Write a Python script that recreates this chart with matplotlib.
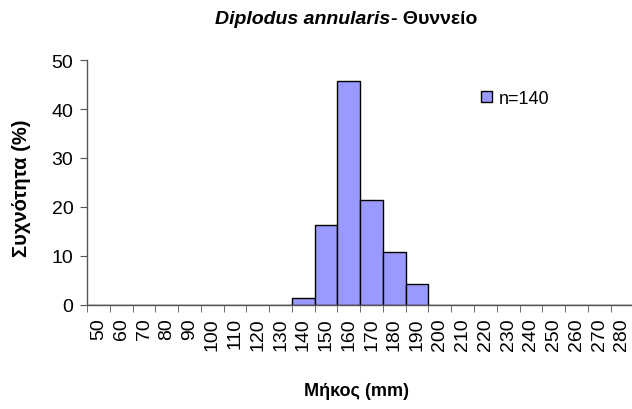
import matplotlib.pyplot as plt
import numpy as np

plt.rcParams['font.family'] = ['Liberation Sans', 'DejaVu Sans']

# κατηγορίες μήκους (mm) και συχνότητα (%)
lengths = list(range(50, 290, 10))
freq = [0, 0, 0, 0, 0, 0, 0, 0, 0,
        1.4, 16.4, 45.7, 21.4, 10.7, 4.3,
        0, 0, 0, 0, 0, 0, 0, 0, 0]
series_name = 'n=140'

fig = plt.figure(figsize=(6.32, 4.1), dpi=100)
ax = fig.add_axes([0.138, 0.254, 0.864, 0.597])

x = np.arange(len(lengths))
ax.bar(x, freq, width=1.0, color='#9999ff', edgecolor='black', linewidth=1.0,
       label=series_name)

ax.set_xlim(-0.5, len(lengths) - 0.5)
ax.set_ylim(0, 50)
ax.set_yticks(range(0, 51, 10))
ax.set_xticks(x)
ax.set_xticklabels([str(v) for v in lengths], rotation=90, fontsize=14)
ax.set_xticks(np.arange(-0.5, len(lengths), 1.0), minor=True)
ax.tick_params(axis='x', which='major', length=0, pad=9)
ax.tick_params(axis='x', which='minor', length=5, direction='out', color='#555555')
ax.tick_params(axis='y', length=5, direction='out', color='#555555', labelsize=14, pad=5)

for s in ['top', 'right']:
    ax.spines[s].set_visible(False)
for s in ['left', 'bottom']:
    ax.spines[s].set_color('#555555')
    ax.spines[s].set_linewidth(1.0)

# τίτλοι αξόνων
fig.text(22 / 632, 1 - 188 / 410, 'Συχνότητα (%)', fontsize=14.5, fontweight='bold',
         rotation=90, ha='center', va='center')
fig.text(356 / 632, 1 - 392 / 410, 'Μήκος (mm)', fontsize=13, fontweight='bold',
         ha='center', va='center')

ax.legend(loc='center left', bbox_to_anchor=(481 / 632, 1 - 99.5 / 410),
          bbox_transform=fig.transFigure, frameon=False, borderpad=0,
          borderaxespad=0, fontsize=13, handlelength=0.6, handleheight=0.6,
          handletextpad=0.4)

# τίτλος με πλάγιο όνομα είδους
fig.text(0.618, 0.953, 'Diplodus annularis', fontsize=14, fontweight='bold',
         fontstyle='italic', ha='right', va='center')
fig.text(0.618, 0.953, '- Θυννείο', fontsize=14, fontweight='bold',
         ha='left', va='center')

fig.savefig('out.png', dpi=100)
